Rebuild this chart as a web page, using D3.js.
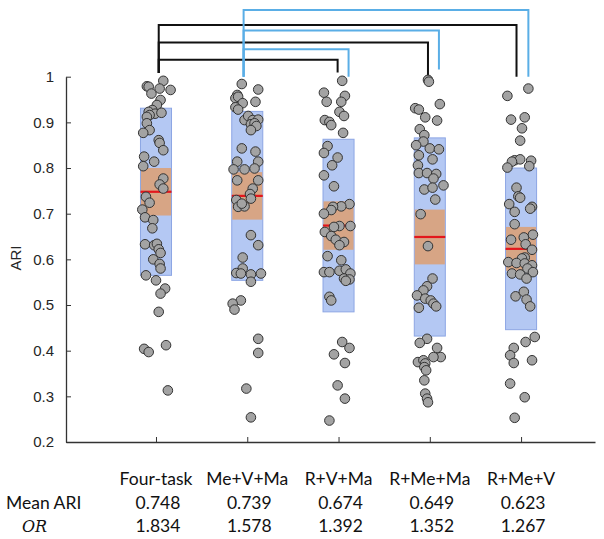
<!DOCTYPE html>
<html>
<head>
<meta charset="utf-8">
<script src="https://cdn.jsdelivr.net/npm/d3@7"></script>
<style>
  body { margin: 0; background: #fff; }
  svg { display: block; }
</style>
</head>
<body>
<div id="chart"></div>
<script>
// groups and summary stats
var categories = ["Four-task", "Me+V+Ma", "R+V+Ma", "R+Me+Ma", "R+Me+V"];
var meanARI = [0.748, 0.739, 0.674, 0.649, 0.623];
var orValues = [1.834, 1.578, 1.392, 1.352, 1.267];
var sdARI = [0.183, 0.185, 0.189, 0.217, 0.177];
var ciARI = [0.052, 0.052, 0.053, 0.060, 0.048];
var yTicks = [0.2, 0.3, 0.4, 0.5, 0.6, 0.7, 0.8, 0.9, 1];

// per-subject ARI values, with horizontal jitter in category units
var fourTask = [0.991,0.979,0.978,0.971,0.974,0.963,0.949,0.938,0.927,0.923,0.919,0.916,0.912,0.921,0.898,0.883,0.877,0.861,0.855,0.839,0.825,0.804,0.814,0.777,0.764,0.755,0.737,0.724,0.709,0.692,0.686,0.668,0.633,0.631,0.634,0.622,0.614,0.600,0.590,0.580,0.565,0.554,0.536,0.525,0.485,0.404,0.397,0.412,0.313];
var fourTaskJit = [0.08,-0.10,-0.08,0.16,0.04,-0.05,0.05,0.01,-0.04,-0.08,-0.01,-0.07,-0.10,0.06,-0.10,-0.07,-0.14,0.03,0.04,0.08,-0.13,-0.14,-0.02,0.08,0.04,0.08,-0.11,-0.07,-0.15,-0.12,-0.03,-0.04,-0.12,-0.02,0.01,0.03,0.05,-0.03,0.04,0.05,-0.11,0,0.10,0.05,0.03,-0.13,-0.08,0.11,0.13];

var meVMa = [0.984,0.972,0.960,0.953,0.956,0.942,0.933,0.928,0.945,0.905,0.914,0.905,0.906,0.896,0.898,0.892,0.883,0.843,0.836,0.814,0.814,0.797,0.797,0.799,0.773,0.773,0.755,0.743,0.733,0.730,0.715,0.716,0.722,0.653,0.631,0.604,0.580,0.570,0.569,0.567,0.569,0.551,0.510,0.503,0.490,0.426,0.395,0.317,0.254];
var meVMaJit = [-0.06,0.12,-0.11,-0.13,-0.10,-0.05,-0.13,-0.10,0.09,-0.03,0.01,0.06,0.12,0.04,0.08,0.10,0.04,-0.06,0.09,0.12,-0.11,-0.15,-0.03,0.08,0.12,-0.11,0.06,0.03,0.04,-0.12,-0.10,-0.03,-0.06,0.04,0.12,-0.05,-0.05,-0.12,-0.07,0.04,0.15,0.04,-0.07,-0.16,-0.14,0.12,0.12,-0.01,0.04];

var rVMa = [0.991,0.965,0.945,0.958,0.945,0.923,0.914,0.905,0.901,0.894,0.877,0.848,0.833,0.823,0.806,0.784,0.760,0.721,0.716,0.715,0.708,0.700,0.673,0.673,0.671,0.660,0.651,0.643,0.638,0.631,0.607,0.598,0.572,0.572,0.575,0.578,0.569,0.558,0.556,0.553,0.518,0.510,0.419,0.406,0.392,0.373,0.324,0.295,0.247];
var rVMaJit = [0.04,-0.16,-0.13,0.07,0.03,0.01,0.06,-0.15,-0.10,-0.08,0.05,-0.12,-0.16,-0.01,-0.07,-0.16,-0.05,0.12,0.03,-0.06,-0.08,-0.16,0.13,0.01,-0.05,-0.15,-0.08,-0.03,0.06,0.01,-0.12,0.03,-0.16,-0.10,0.01,0.08,0.13,0.06,0.12,0.08,-0.10,-0.08,0.04,0.12,-0.05,0.07,-0.01,0.07,-0.10];

var rMeMa = [0.993,0.989,0.940,0.931,0.928,0.911,0.904,0.885,0.872,0.858,0.850,0.843,0.841,0.828,0.819,0.806,0.789,0.789,0.787,0.777,0.762,0.753,0.757,0.731,0.699,0.629,0.558,0.541,0.532,0.521,0.514,0.510,0.503,0.497,0.494,0.426,0.417,0.406,0.386,0.386,0.375,0.379,0.372,0.364,0.357,0.335,0.306,0.295,0.287];
var rMeMaJit = [-0.02,-0.01,0.11,-0.16,-0.12,-0.05,0.08,-0.11,-0.06,-0.07,-0.15,0,0.10,-0.12,0.03,-0.13,-0.12,-0.03,0.07,0.04,0.15,-0.06,0.03,0.06,-0.10,-0.02,0.03,-0.03,-0.07,-0.14,-0.05,0.01,0.04,0.07,-0.12,-0.03,-0.11,0.08,0.12,0.04,-0.13,-0.07,-0.05,-0.06,-0.04,-0.06,-0.05,-0.03,-0.02];

var rMeV = [0.974,0.958,0.906,0.911,0.887,0.860,0.817,0.819,0.814,0.801,0.816,0.804,0.757,0.738,0.735,0.721,0.704,0.715,0.711,0.677,0.654,0.648,0.643,0.633,0.621,0.604,0.602,0.594,0.592,0.591,0.587,0.580,0.572,0.569,0.567,0.558,0.519,0.529,0.512,0.497,0.430,0.419,0.406,0.390,0.373,0.379,0.328,0.298,0.253];
var rMeVJit = [0.08,-0.15,-0.11,0.04,0.01,-0.01,-0.07,-0.01,-0.10,-0.15,0.11,0.09,-0.05,-0.03,-0.01,-0.13,-0.07,0.12,0.10,-0.07,0.13,0.03,-0.11,0.05,0.12,0.04,0.01,-0.14,-0.05,0.04,0.12,0.07,0.13,-0.10,-0.01,0.06,-0.06,0.03,0.06,0.10,0.15,0.05,-0.08,-0.12,-0.08,0.12,-0.12,0.04,-0.07];

// significance brackets: from group, to groups, bar level, drop end
var blackFrom = 1.03, blackFromEnd = 1.008;
var blackTo = [2.99, 3.98, 4.95];
var blackLevel = [1.037, 1.075, 1.113];
var blackEnd = [1.009, 0.993, 1.0];
var blueFrom = 1.96, blueFromEnd = 1.0;
var blueTo = [3.11, 4.10, 5.08];
var blueLevel = [1.060, 1.101, 1.146];
var blueEnd = [1.0, 1.016, 1.0];

var groupValues = [fourTask, meVMa, rVMa, rMeMa, rMeV];
var groupJitter = [fourTaskJit, meVMaJit, rVMaJit, rMeMaJit, rMeVJit];

var width = 604, height = 539,
    boxHalf = 0.17,
    dotR = 4.8;

var svg = d3.select("#chart").append("svg")
    .attr("width", width)
    .attr("height", height);

var x = d3.scaleLinear().domain([0.014, 5.81]).range([66, 595]);
var y = d3.scaleLinear().domain([0.2, 1]).range([442, 76.7]);

// axes
var yAxis = d3.axisLeft(y).tickValues(yTicks).tickSize(-5).tickSizeOuter(0)
    .tickPadding(12)
    .tickFormat(function(d) { return d === 1 ? "1" : d3.format(".1f")(d); });
var gy = svg.append("g").attr("transform", "translate(66,0)").call(yAxis);
gy.select(".domain").attr("stroke", "#333").attr("stroke-width", 1.3);
gy.selectAll(".tick line").attr("stroke", "#333");
gy.selectAll("text").attr("font-family", "Liberation Sans, Arial, sans-serif")
    .attr("font-size", 15).attr("fill", "#262626");

var xAxis = d3.axisBottom(x).tickValues([1, 2, 3, 4, 5]).tickSize(-5).tickSizeOuter(0)
    .tickFormat("");
var gx = svg.append("g").attr("transform", "translate(0,442)").call(xAxis);
gx.select(".domain").attr("stroke", "#333").attr("stroke-width", 1.3);
gx.selectAll(".tick line").attr("stroke", "#333");

svg.append("text")
    .attr("transform", "translate(21,258) rotate(-90)")
    .attr("text-anchor", "middle")
    .attr("font-family", "Liberation Sans, Arial, sans-serif")
    .attr("font-size", 15)
    .attr("fill", "#262626")
    .text("ARI");

// boxes: SD (blue), 95% CI (orange), mean (red)
categories.forEach(function(c, i) {
    var cx = i + 1, m = meanARI[i];
    svg.append("rect")
        .attr("x", x(cx - boxHalf))
        .attr("width", x(cx + boxHalf) - x(cx - boxHalf))
        .attr("y", y(m + sdARI[i]))
        .attr("height", y(m - sdARI[i]) - y(m + sdARI[i]))
        .attr("fill", "#b4c8f3")
        .attr("stroke", "#8da6e4")
        .attr("stroke-width", 1);
    svg.append("rect")
        .attr("x", x(cx - boxHalf) + 0.5)
        .attr("width", x(cx + boxHalf) - x(cx - boxHalf) - 1)
        .attr("y", y(m + ciARI[i]))
        .attr("height", y(m - ciARI[i]) - y(m + ciARI[i]))
        .attr("fill", "#d7a585");
    svg.append("line")
        .attr("x1", x(cx - boxHalf)).attr("x2", x(cx + boxHalf))
        .attr("y1", y(m)).attr("y2", y(m))
        .attr("stroke", "#e3171c")
        .attr("stroke-width", 2.2);
});

// brackets
function bracket(from, fromEnd, to, level, end, color) {
    svg.append("path")
        .attr("d", d3.line()([[x(from), y(fromEnd)], [x(from), y(level)], [x(to), y(level)], [x(to), y(end)]]))
        .attr("fill", "none")
        .attr("stroke", color)
        .attr("stroke-width", 2);
}
blackTo.forEach(function(t, i) { bracket(blackFrom, blackFromEnd, t, blackLevel[i], blackEnd[i], "#111"); });
blueTo.forEach(function(t, i) { bracket(blueFrom, blueFromEnd, t, blueLevel[i], blueEnd[i], "#5aaee6"); });

// subject dots
groupValues.forEach(function(vals, i) {
    svg.append("g").selectAll("circle")
        .data(vals)
        .enter().append("circle")
        .attr("cx", function(d, k) { return x(i + 1 + groupJitter[i][k]); })
        .attr("cy", function(d) { return y(d); })
        .attr("r", dotR)
        .attr("fill", "#a3a3a3")
        .attr("stroke", "#333")
        .attr("stroke-width", 1);
});

// table underneath
var tableFont = "Lato, 'Open Sans', sans-serif";
svg.append("g").selectAll("text")
    .data(categories)
    .enter().append("text")
    .attr("x", function(d, i) { return x(i + 1); })
    .attr("y", 485)
    .attr("text-anchor", "middle")
    .attr("font-family", tableFont)
    .attr("font-size", 17.5)
    .attr("fill", "#111")
    .text(function(d) { return d; });

svg.append("g").selectAll("text")
    .data(meanARI)
    .enter().append("text")
    .attr("x", function(d, i) { return x(i + 1) + 2; })
    .attr("y", 509)
    .attr("text-anchor", "middle")
    .attr("font-family", tableFont)
    .attr("font-size", 17.5)
    .attr("fill", "#111")
    .text(function(d) { return d3.format(".3f")(d); });

svg.append("g").selectAll("text")
    .data(orValues)
    .enter().append("text")
    .attr("x", function(d, i) { return x(i + 1) + 2; })
    .attr("y", 532)
    .attr("text-anchor", "middle")
    .attr("font-family", tableFont)
    .attr("font-size", 17.5)
    .attr("fill", "#111")
    .text(function(d) { return d3.format(".3f")(d); });

svg.append("text")
    .attr("x", 6).attr("y", 509)
    .attr("font-family", tableFont)
    .attr("font-size", 17.5)
    .attr("fill", "#111")
    .text("Mean ARI");

svg.append("text")
    .attr("x", 22).attr("y", 532)
    .attr("font-family", "'DejaVu Serif', 'Liberation Serif', serif")
    .attr("font-style", "italic")
    .attr("font-size", 16)
    .attr("fill", "#111")
    .text("OR");
</script>
</body>
</html>
